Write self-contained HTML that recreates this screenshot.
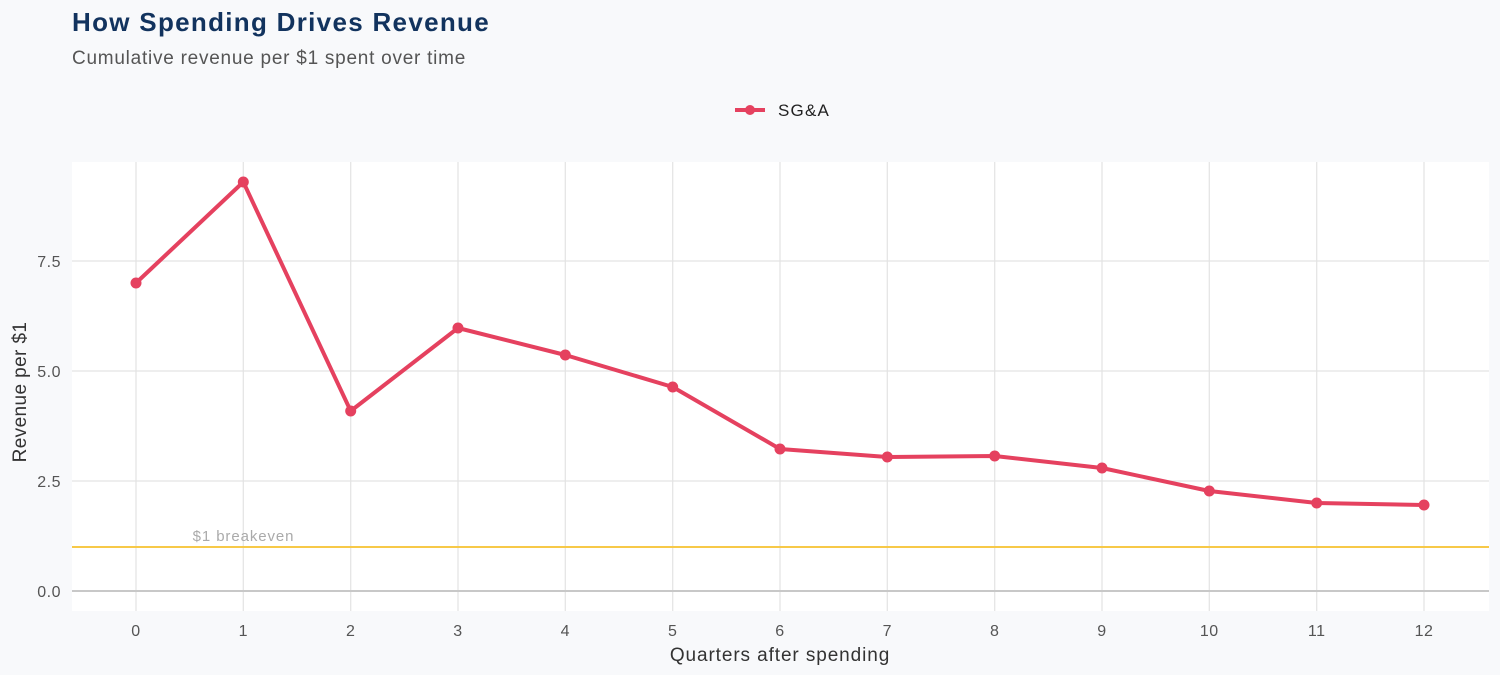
<!DOCTYPE html>
<html><head><meta charset="utf-8"><style>
html,body{margin:0;padding:0;background:#f8f9fb;}
svg{display:block;font-family:"Liberation Sans",sans-serif;}
</style></head><body>
<svg width="1500" height="675" viewBox="0 0 1500 675" xmlns="http://www.w3.org/2000/svg">
<rect width="1500" height="675" fill="#f8f9fb"/>
<text x="72" y="31" font-size="26" font-weight="bold" fill="#12335e" letter-spacing="1.3">How Spending Drives Revenue</text>
<text x="72" y="64" font-size="19" fill="#555" letter-spacing="0.75">Cumulative revenue per $1 spent over time</text>
<line x1="735" y1="110" x2="765" y2="110" stroke="#e5415f" stroke-width="4"/>
<circle cx="750" cy="110" r="5" fill="#e5415f"/>
<text x="778" y="116" font-size="17" fill="#222" letter-spacing="1.2">SG&amp;A</text>
<rect x="72" y="162" width="1417" height="449" fill="#fff"/>
<g stroke="#e3e3e3" stroke-width="1.2">
<line x1="72" x2="1489" y1="261" y2="261"/><line x1="72" x2="1489" y1="371" y2="371"/><line x1="72" x2="1489" y1="481" y2="481"/>
<line x1="136" x2="136" y1="162" y2="611"/><line x1="243.3" x2="243.3" y1="162" y2="611"/><line x1="350.7" x2="350.7" y1="162" y2="611"/><line x1="458" x2="458" y1="162" y2="611"/><line x1="565.3" x2="565.3" y1="162" y2="611"/><line x1="672.7" x2="672.7" y1="162" y2="611"/><line x1="780" x2="780" y1="162" y2="611"/><line x1="887.3" x2="887.3" y1="162" y2="611"/><line x1="994.7" x2="994.7" y1="162" y2="611"/><line x1="1102" x2="1102" y1="162" y2="611"/><line x1="1209.3" x2="1209.3" y1="162" y2="611"/><line x1="1316.7" x2="1316.7" y1="162" y2="611"/><line x1="1424" x2="1424" y1="162" y2="611"/>
</g>
<line x1="72" x2="1489" y1="591" y2="591" stroke="#c8c8c8" stroke-width="2"/>
<line x1="72" x2="1489" y1="547" y2="547" stroke="#f7c948" stroke-width="2"/>
<text x="243.5" y="541" font-size="15" fill="#aaa" text-anchor="middle" letter-spacing="0.9">$1 breakeven</text>
<polyline fill="none" stroke="#e5415f" stroke-width="4" stroke-linejoin="round" points="136,283 243.3,182 350.7,411 458,328 565.3,355 672.7,387 780,449 887.3,457 994.7,456 1102,468 1209.3,491 1316.7,503 1424,505"/>
<g fill="#e5415f">
<circle cx="136" cy="283" r="5.5"/><circle cx="243.3" cy="182" r="5.5"/><circle cx="350.7" cy="411" r="5.5"/><circle cx="458" cy="328" r="5.5"/><circle cx="565.3" cy="355" r="5.5"/><circle cx="672.7" cy="387" r="5.5"/><circle cx="780" cy="449" r="5.5"/><circle cx="887.3" cy="457" r="5.5"/><circle cx="994.7" cy="456" r="5.5"/><circle cx="1102" cy="468" r="5.5"/><circle cx="1209.3" cy="491" r="5.5"/><circle cx="1316.7" cy="503" r="5.5"/><circle cx="1424" cy="505" r="5.5"/>
</g>
<g font-size="16" fill="#555" text-anchor="end" letter-spacing="0.5">
<text x="61" y="267">7.5</text><text x="61" y="377">5.0</text><text x="61" y="487">2.5</text><text x="61" y="597">0.0</text>
</g>
<g font-size="16" fill="#555" text-anchor="middle" letter-spacing="0.5">
<text x="136" y="636">0</text><text x="243.3" y="636">1</text><text x="350.7" y="636">2</text><text x="458" y="636">3</text><text x="565.3" y="636">4</text><text x="672.7" y="636">5</text><text x="780" y="636">6</text><text x="887.3" y="636">7</text><text x="994.7" y="636">8</text><text x="1102" y="636">9</text><text x="1209.3" y="636">10</text><text x="1316.7" y="636">11</text><text x="1424" y="636">12</text>
</g>
<text x="780" y="661" font-size="19" fill="#333" text-anchor="middle" letter-spacing="0.9">Quarters after spending</text>
<text transform="translate(26,392) rotate(-90)" font-size="19" fill="#333" text-anchor="middle" letter-spacing="0.4">Revenue per $1</text>
</svg>
</body></html>
